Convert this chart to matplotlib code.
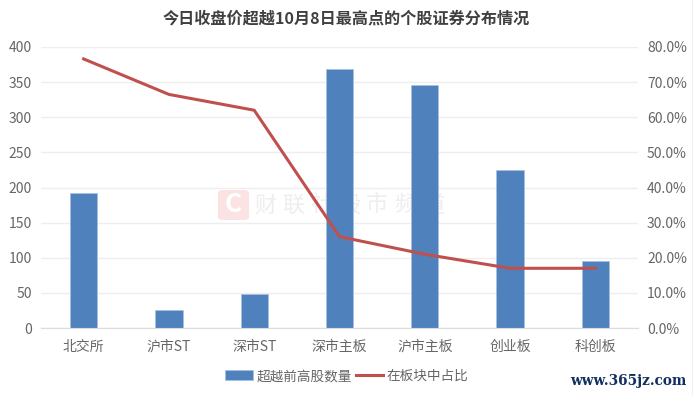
import matplotlib
matplotlib.use('Agg')
from matplotlib import pyplot as plt
from matplotlib.lines import Line2D
from matplotlib.patches import FancyBboxPatch

plt.rcParams['font.family'] = ['Noto Sans CJK SC', 'DejaVu Sans']

categories = ['北交所', '沪市ST', '深市ST', '深市主板', '沪市主板', '创业板', '科创板']
counts = [192, 25, 48, 369, 346, 225, 96]
ratios = [76.6, 66.5, 62.0, 26.0, 21.0, 17.0, 17.0]
left_ticks = [0, 50, 100, 150, 200, 250, 300, 350, 400]
right_ticks = [0, 10, 20, 30, 40, 50, 60, 70, 80]
watermark = '财联社股市频道'

W, H = 693, 396
fig = plt.figure(figsize=(W / 100, H / 100), dpi=100)
ax = fig.add_axes([41 / W, 1 - 328 / H, (638 - 41) / W, (328 - 47) / H])
ax.patch.set_alpha(0)

# 柱状图
x = range(len(categories))
ax.bar(x, counts, width=0.32, color='#4f81bd', edgecolor='#a9c1e0', linewidth=0.5,
       label='超越前高股数量', zorder=3)
ax.set_xlim(-0.5, 6.5)
ax.set_ylim(0, 400)
ax.set_yticks(left_ticks)
ax.set_xticks(list(x))
ax.set_xticklabels(categories)
ax.grid(axis='y', color='#eeeeee', linewidth=1, zorder=0)
ax.set_axisbelow(True)
ax.tick_params(length=0, labelcolor='#666666')
ax.tick_params(axis='x', labelsize=10, pad=8.5)
ax.tick_params(axis='y', labelsize=10, pad=6.5)

# 折线
ax2 = ax.twinx()
ax2.plot(list(x), ratios, color='#c0504d', linewidth=2.2, label='在板块中占比', zorder=4,
         solid_joinstyle='round')
ax2.set_ylim(0, 80)
ax2.set_yticks(right_ticks)
ax2.set_yticklabels([f'{t:.1f}%' for t in right_ticks])
ax2.tick_params(length=0, labelsize=10, labelcolor='#666666', pad=6.5)

for a in (ax, ax2):
    for name, sp in a.spines.items():
        sp.set_visible(name == 'bottom')
    a.spines['bottom'].set_color('#dddddd')

fig.text(346.5 / W, 1 - 18 / H, '今日收盘价超越10月8日最高点的个股证券分布情况',
         ha='center', va='center', fontsize=11.6, fontweight='bold', color='#404040')

# 图例
h1, l1 = ax.get_legend_handles_labels()
h2, l2 = ax2.get_legend_handles_labels()
fig.legend(h1 + h2, l1 + l2, loc='center', bbox_to_anchor=(347 / W, 1 - 376 / H), ncol=2,
           frameon=False, fontsize=9.8, labelcolor='#666666', columnspacing=0.25,
           handlelength=2.0, handletextpad=0.3, borderpad=0)

# 水印
fig.patches.append(FancyBboxPatch((218 / W, 1 - 220 / H), 31 / W, 30 / H,
                                  boxstyle='round,pad=0,rounding_size=0.008',
                                  transform=fig.transFigure, facecolor='#fbe3e3',
                                  edgecolor='none', zorder=-2))
fig.text(233.5 / W, 1 - 205 / H, 'C', ha='center', va='center', fontsize=19,
         fontweight='bold', color='white', zorder=-1)
for i, ch in enumerate(watermark):
    fig.text((265 + i * 28) / W, 1 - 205 / H, ch, ha='center', va='center', fontsize=16,
             color='#eeeeee', zorder=-1)

fig.text(686 / W, 1 - 381 / H, 'www.365jz.com', ha='right', va='center', fontsize=9.8,
         color='#12305f', fontweight='bold', family='DejaVu Serif')

# 右边的黑线
fig.add_artist(Line2D([692.5 / W, 692.5 / W], [0, 1], color='black', linewidth=0.8))

fig.savefig('out.png', dpi=100)
